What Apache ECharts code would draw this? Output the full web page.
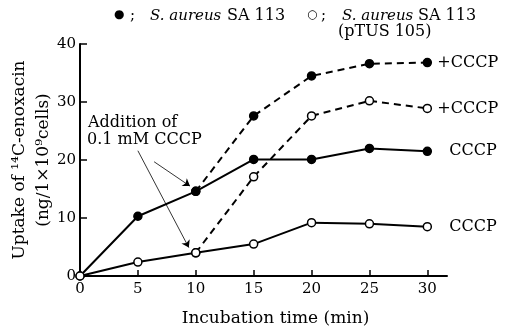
<!DOCTYPE html>
<html lang="en">
<head>
<meta charset="UTF-8">
<title>Uptake of enoxacin</title>
<script src="https://cdn.jsdelivr.net/npm/echarts@6.0.0/dist/echarts.min.js"></script>
<style>
  html, body { margin: 0; padding: 0; background: #fff; }
  #chart { width: 513px; height: 332px; }
</style>
</head>
<body>
<div id="chart"></div>
<script>
// data
var times = [0, 5, 10, 15, 20, 25, 30];
var timesCccp = [10, 15, 20, 25, 30];
var xTicks = [0, 5, 10, 15, 20, 25, 30];

var sa113 = [0, 10.3, 14.6, 20.1, 20.1, 22.0, 21.5];          // filled, solid
var sa113Cccp = [14.6, 27.6, 34.5, 36.6, 36.8];                // filled, dashed
var pTus = [0, 2.4, 4.0, 5.5, 9.2, 9.0, 8.5];                  // open, solid
var pTusCccp = [4.0, 17.1, 27.6, 30.2, 28.9];                  // open, dashed

var endLabels = ['CCCP', '+CCCP', 'CCCP', '+CCCP'];

function zip(xs, ys) {
    return xs.map(function (x, i) { return [x, ys[i]]; });
}

var serif = '"DejaVu Serif", "Liberation Serif", serif';
var chart = echarts.init(document.getElementById('chart'));

function lineSeries(name, data, filled, dashed, label, dist) {
    return {
        name: name,
        type: 'line',
        data: data,
        symbol: 'circle',
        symbolSize: 8,
        showAllSymbol: true,
        z: dashed ? 3 : 4,
        lineStyle: { color: '#000', width: 2, type: dashed ? [7, 5] : 'solid' },
        itemStyle: { color: filled ? '#000' : '#fff', borderColor: '#000', borderWidth: 1.5 },
        endLabel: {
            show: true,
            formatter: label,
            distance: dist,
            fontFamily: serif,
            fontSize: 16,
            color: '#000'
        },
        emphasis: { disabled: true },
        animation: false
    };
}

var s1 = lineSeries('SA113', zip(times, sa113), true, false, endLabels[0], 22);
s1.markLine = {
    silent: true,
    symbol: ['none', 'arrow'],
    symbolSize: 7,
    label: { show: false },
    lineStyle: { color: '#000', width: 0.8, type: 'solid' },
    data: [
        [{ coord: [6.4, 19.7] }, { coord: [9.5, 15.5] }],
        [{ coord: [5.0, 21.6] }, { coord: [9.4, 4.9] }]
    ]
};

chart.setOption({
    animation: false,
    grid: { left: 80, top: 44, right: 66, bottom: 53 },
    xAxis: {
        type: 'value',
        min: 0,
        max: 31.7,
        interval: 5,
        axisLine: { lineStyle: { color: '#000', width: 2 } },
        axisTick: { inside: true, length: 6, customValues: xTicks, lineStyle: { color: '#000', width: 1.5 } },
        axisLabel: { customValues: xTicks, fontFamily: serif, fontSize: 15, color: '#000', margin: 6 },
        splitLine: { show: false },
        name: 'Incubation time (min)',
        nameLocation: 'middle',
        nameGap: 34,
        nameTextStyle: { fontFamily: serif, fontSize: 17, color: '#000', padding: [0, 0, 0, 24] }
    },
    yAxis: {
        type: 'value',
        min: 0,
        max: 40,
        interval: 10,
        axisLine: { show: true, lineStyle: { color: '#000', width: 2 } },
        axisTick: { show: true, inside: true, length: 7, lineStyle: { color: '#000', width: 1.5 } },
        axisLabel: { fontFamily: serif, fontSize: 15, color: '#000', margin: 4 },
        splitLine: { show: false }
    },
    graphic: [
        { type: 'text', x: 114, y: 9, style: { text: '●', font: '12px ' + serif, fill: '#000' } },
        { type: 'text', x: 130, y: 9, style: { text: ';', font: '15px ' + serif, fill: '#000' } },
        { type: 'text', x: 150, y: 9, style: { text: 'S. aureus', font: 'italic 15px ' + serif, fill: '#000' } },
        { type: 'text', x: 227, y: 8, style: { text: 'SA 113', font: '16px ' + serif, fill: '#000' } },
        { type: 'text', x: 307, y: 9, style: { text: '○', font: '12px ' + serif, fill: '#000' } },
        { type: 'text', x: 321, y: 9, style: { text: ';', font: '15px ' + serif, fill: '#000' } },
        { type: 'text', x: 342, y: 9, style: { text: 'S. aureus', font: 'italic 15px ' + serif, fill: '#000' } },
        { type: 'text', x: 418, y: 8, style: { text: 'SA 113', font: '16px ' + serif, fill: '#000' } },
        { type: 'text', x: 338, y: 24, style: { text: '(pTUS 105)', font: '16px ' + serif, fill: '#000' } },
        { type: 'text', x: 88, y: 115, style: { text: 'Addition of', font: '16px ' + serif, fill: '#000' } },
        { type: 'text', x: 87, y: 132, style: { text: '0.1 mM CCCP', font: '16px ' + serif, fill: '#000' } },
        {
            type: 'text', x: 20, y: 160, rotation: Math.PI / 2, originX: 0, originY: 0,
            style: { text: 'Uptake of \u00b9\u2074C-enoxacin', font: '17px ' + serif, fill: '#000', align: 'center', verticalAlign: 'middle' }
        },
        {
            type: 'text', x: 44, y: 160, rotation: Math.PI / 2, originX: 0, originY: 0,
            style: { text: '(ng/1\u00d710\u2079cells)', font: '17px ' + serif, fill: '#000', align: 'center', verticalAlign: 'middle' }
        }
    ],
    series: [
        s1,
        lineSeries('SA113 +CCCP', zip(timesCccp, sa113Cccp), true, true, endLabels[1], 10),
        lineSeries('pTUS105', zip(times, pTus), false, false, endLabels[2], 22),
        lineSeries('pTUS105 +CCCP', zip(timesCccp, pTusCccp), false, true, endLabels[3], 10)
    ]
});
</script>
</body>
</html>
